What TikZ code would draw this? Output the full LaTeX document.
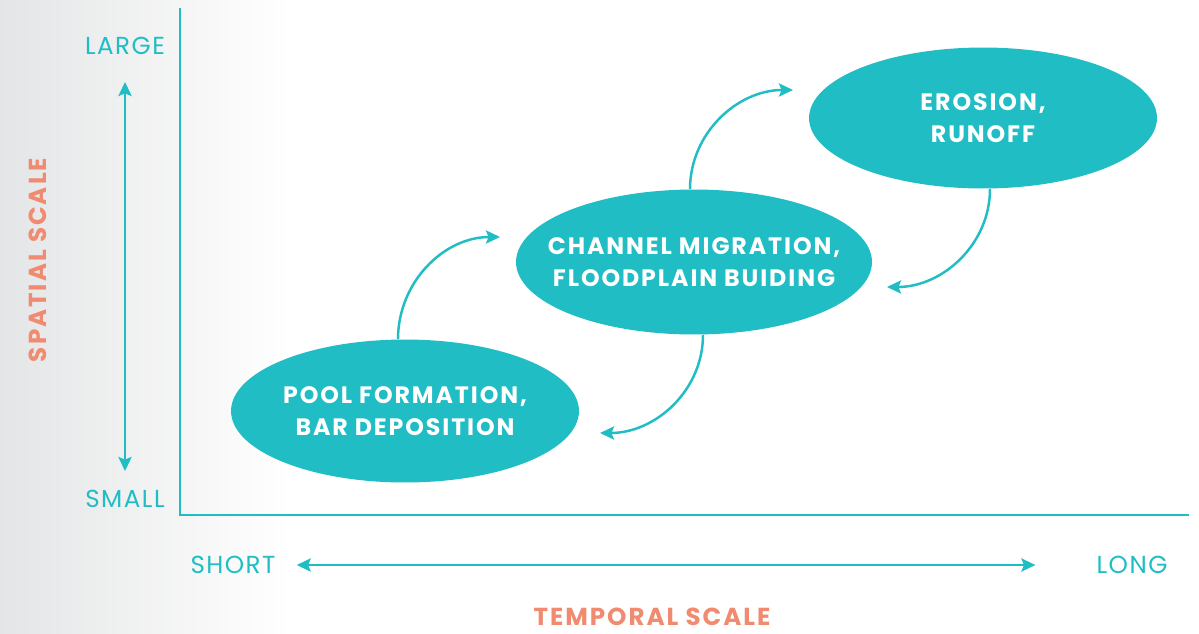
\documentclass[tikz,border=0pt]{standalone}
\usepackage{fontspec}
\setmainfont{Poppins}
\newfontfamily\labelfont[LetterSpace=6]{Poppins}
\newfontfamily\titlefont[LetterSpace=8]{Poppins}
\newfontfamily\blobfont[LetterSpace=8]{Poppins}
\usetikzlibrary{positioning,arrows.meta,shapes.geometric,calc}
\usepackage{xcolor}
\definecolor{tealc}{HTML}{20BDC5}
\definecolor{salmon}{HTML}{F08A70}
\definecolor{bgleft}{HTML}{E4E5E6}

\begin{document}
\begin{tikzpicture}[
			x=0.02cm, y=-0.02cm,
			% Define styles for the pieces
			blob/.style={ellipse, fill=tealc, inner xsep=-0.6cm, inner ysep=0pt, align=center, minimum width=6.96cm, minimum height=2.86cm, text=white, font=\blobfont\bfseries\fontsize{13.5}{18.2}\selectfont},
			scalelabel/.style={text=tealc, font=\labelfont\fontsize{14}{16}\selectfont},
			axistitle/.style={text=salmon, font=\titlefont\bfseries\fontsize{14}{16}\selectfont},
			axisline/.style={draw=tealc, line width=0.8pt},
			arrow/.style={-{Stealth[length=8pt,width=7.5pt,inset=1.5pt]}, line width=1.4pt, color=tealc},
			twoway/.style={{Stealth[length=8pt,width=7.5pt,inset=1.5pt]}-{Stealth[length=8pt,width=7.5pt,inset=1.5pt]}, line width=1.4pt, color=tealc}
			]
			
			\useasboundingbox (0,0) rectangle (1199,633);
			
			% --- Background ---
			\fill[white] (0,0) rectangle (1199,633);
			\shade[left color=bgleft, right color=white] (0,0) rectangle (290,633);
			
			% --- Axes ---
			\coordinate (origin) at (180,515);
			\coordinate (ytop) at (180,8);
			\coordinate (xend) at (1189,515);
			\draw[axisline] (ytop) -- (origin) -- (xend);
			
			% --- Scale labels ---
			\node (large) [scalelabel] at (125,46) {LARGE};
			\node (small) [scalelabel] at (125,499) {SMALL};
			\node (short) [scalelabel] at (233,565) {SHORT};
			\node (long) [scalelabel] at (1132,565) {LONG};
			
			\node (spatial) [axistitle, rotate=90] at (38,260) {SPATIAL SCALE};
			\node (temporal) [axistitle] at (652,617) {TEMPORAL SCALE};
			
			\draw[twoway] ([yshift=-0.42cm]large.south) -- ([yshift=0.26cm]small.north);
			\draw[twoway] ([xshift=0.3cm]short.east) -- ([xshift=-1.1cm]long.west);
			
			% --- Nodes ---
			\node (pool) [blob] at (405,411) {POOL FORMATION,\\BAR DEPOSITION};
			\node (channel) [blob, minimum width=7.12cm, minimum height=2.9cm] at (694,262) {CHANNEL MIGRATION,\\FLOODPLAIN BUIDING};
			\node (erosion) [blob, minimum height=2.82cm] at (983,118) {EROSION,\\RUNOFF};
			
			% free ends of the bent arrows
			\coordinate (upone) at (500,237);
			\coordinate (downone) at (600,433);
			\coordinate (uptwo) at (793,90);
			\coordinate (downtwo) at (887,287);
			
			% --- Arrows ---
			\draw[arrow] ([xshift=-0.14cm]pool.north) to[out=90, in=180] (upone);
			\draw[arrow] ([xshift=0.18cm]channel.south) to[out=-90, in=0] (downone);
			\draw[arrow] ([xshift=-0.08cm]channel.north) to[out=90, in=180] (uptwo);
			\draw[arrow] ([xshift=0.14cm]erosion.south) to[out=-90, in=0] (downtwo);
			
		\end{tikzpicture}
\end{document}
